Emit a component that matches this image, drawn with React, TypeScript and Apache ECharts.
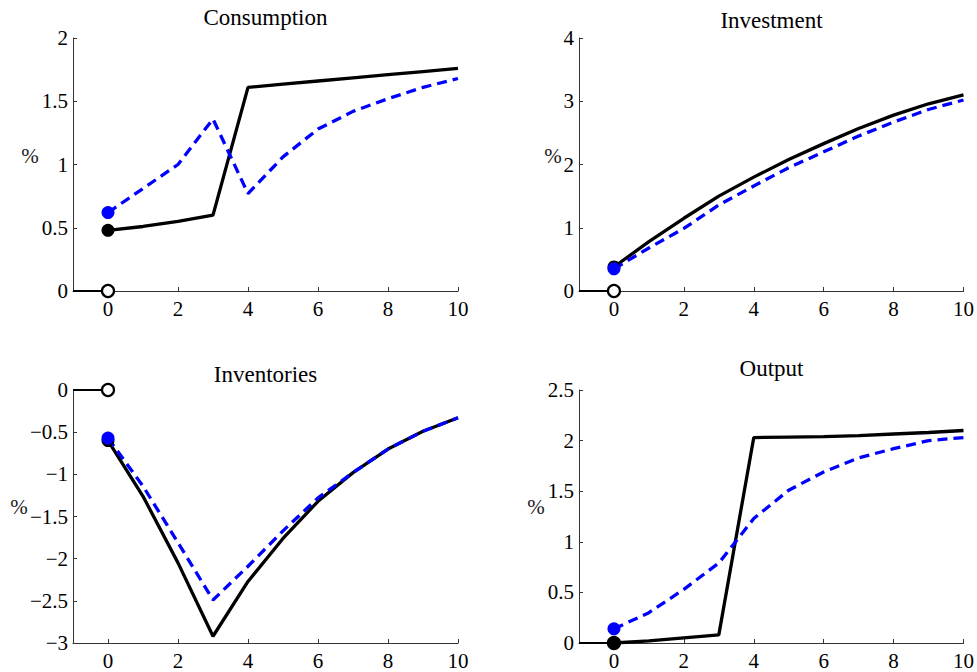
import React, { useEffect, useRef } from "react";
import * as echarts from "echarts";

const periods = [0, 1, 2, 3, 4, 5, 6, 7, 8, 9, 10];
const xTicks = [0, 2, 4, 6, 8, 10];
const preX = [-1, 0];
const preY = [0, 0];

const titles = ["Consumption", "Investment", "Inventories", "Output"];

const consumptionBlack = [0.48, 0.51, 0.55, 0.6, 1.61, 1.635, 1.66, 1.685, 1.71, 1.735, 1.76];
const consumptionBlue = [0.62, 0.81, 1.0, 1.36, 0.77, 1.06, 1.28, 1.42, 1.52, 1.61, 1.68];
const investmentBlack = [0.38, 0.78, 1.15, 1.5, 1.8, 2.08, 2.33, 2.57, 2.78, 2.96, 3.1];
const investmentBlue = [0.35, 0.68, 0.99, 1.36, 1.66, 1.95, 2.2, 2.45, 2.67, 2.87, 3.02];
const inventoriesBlack = [-0.6, -1.26, -2.05, -2.92, -2.27, -1.76, -1.32, -0.98, -0.7, -0.49, -0.33];
const inventoriesBlue = [-0.57, -1.14, -1.81, -2.49, -2.09, -1.67, -1.28, -0.98, -0.7, -0.49, -0.33];
const outputBlack = [0.0, 0.02, 0.05, 0.08, 2.03, 2.035, 2.04, 2.05, 2.065, 2.08, 2.1];
const outputBlue = [0.14, 0.3, 0.53, 0.79, 1.23, 1.51, 1.69, 1.83, 1.92, 2.0, 2.03];

const blackSeries = [consumptionBlack, investmentBlack, inventoriesBlack, outputBlack];
const blueSeries = [consumptionBlue, investmentBlue, inventoriesBlue, outputBlue];

const yMins = [0, 0, -3, 0];
const yMaxs = [2, 4, 0, 2.5];
const yIntervals = [0.5, 1, 0.5, 0.5];

const FONT = "Liberation Serif";

// layout
const grids = [
  { left: 73, top: 38, width: 385, height: 253 },
  { left: 579, top: 38, width: 385, height: 253 },
  { left: 73, top: 390, width: 385, height: 253 },
  { left: 579, top: 390, width: 385, height: 253 },
];
const titleTops = [6, 9, 363, 357];
const pctPos = [
  [30, 156],
  [553, 156],
  [19, 507],
  [536, 507],
];

const fmt = (v: number) => String(v).replace("-", "\u2212");

export default function App() {
  const ref = useRef<HTMLDivElement>(null);
  useEffect(() => {
    if (!ref.current) return;
    const chart = echarts.init(ref.current, undefined, { renderer: "svg" });
    const xAxis: any[] = [];
    const yAxis: any[] = [];
    const series: any[] = [];
    const title: any[] = [];
    const graphic: any[] = [];
    grids.forEach((g, i) => {
      title.push({
        text: titles[i],
        left: g.left + g.width / 2,
        top: titleTops[i],
        textAlign: "center",
        textStyle: { fontFamily: FONT, fontSize: 23, fontWeight: "normal", color: "#000", lineHeight: 23 },
        padding: 0,
      });
      graphic.push({
        type: "text",
        x: pctPos[i][0],
        y: pctPos[i][1],
        style: {
          text: "%",
          fontFamily: FONT,
          fontSize: 21,
          fill: "#222",
          textAlign: "center",
          textVerticalAlign: "middle",
        },
      });
      xAxis.push({
        type: "value",
        gridIndex: i,
        min: -1,
        max: 10,
        axisLine: { onZero: false, lineStyle: { color: "#333", width: 1 } },
        axisTick: { inside: true, length: 4, customValues: xTicks, lineStyle: { color: "#333" } },
        axisLabel: { customValues: xTicks, fontFamily: FONT, fontSize: 21, color: "#000", margin: 7 },
        splitLine: { show: false },
      });
      yAxis.push({
        type: "value",
        gridIndex: i,
        min: yMins[i],
        max: yMaxs[i],
        interval: yIntervals[i],
        axisLine: { show: true, onZero: false, lineStyle: { color: "#333", width: 1 } },
        axisTick: { show: true, inside: true, length: 4, lineStyle: { color: "#333" } },
        axisLabel: { fontFamily: FONT, fontSize: 21, color: "#000", margin: 5, formatter: fmt },
        splitLine: { show: false },
      });
      series.push({
        type: "line",
        xAxisIndex: i,
        yAxisIndex: i,
        data: preX.map((x, k) => [x, preY[k]]),
        showSymbol: false,
        lineStyle: { color: "#000", width: 2 },
        z: 2,
      });
      series.push({
        type: "scatter",
        xAxisIndex: i,
        yAxisIndex: i,
        data: [[preX[1], preY[1]]],
        symbol: "circle",
        symbolSize: 12,
        itemStyle: { color: "#fff", borderColor: "#000", borderWidth: 2.2, opacity: 1 },
        z: 3,
      });
      series.push({
        type: "line",
        xAxisIndex: i,
        yAxisIndex: i,
        data: periods.map((x, k) => [x, blackSeries[i][k]]),
        showSymbol: false,
        lineStyle: { color: "#000", width: 3.3 },
        z: 4,
      });
      series.push({
        type: "line",
        xAxisIndex: i,
        yAxisIndex: i,
        data: periods.map((x, k) => [x, blueSeries[i][k]]),
        showSymbol: false,
        lineStyle: { color: "#0000ff", width: 3.3, type: [10, 6] },
        z: 5,
      });
      series.push({
        type: "scatter",
        xAxisIndex: i,
        yAxisIndex: i,
        data: [[periods[0], blackSeries[i][0]]],
        symbol: "circle",
        symbolSize: 13,
        itemStyle: { color: "#000", opacity: 1 },
        z: 6,
      });
      series.push({
        type: "scatter",
        xAxisIndex: i,
        yAxisIndex: i,
        data: [[periods[0], blueSeries[i][0]]],
        symbol: "circle",
        symbolSize: 13,
        itemStyle: { color: "#0000ff", opacity: 1 },
        z: 7,
      });
    });
    chart.setOption({
      animation: false,
      backgroundColor: "#fff",
      title,
      grid: grids,
      xAxis,
      yAxis,
      series,
      graphic,
    });
    return () => chart.dispose();
  }, []);
  return (
    <div
      ref={ref}
      style={{ position: "fixed", left: 0, top: 0, width: 977, height: 672, background: "#fff" }}
    />
  );
}
